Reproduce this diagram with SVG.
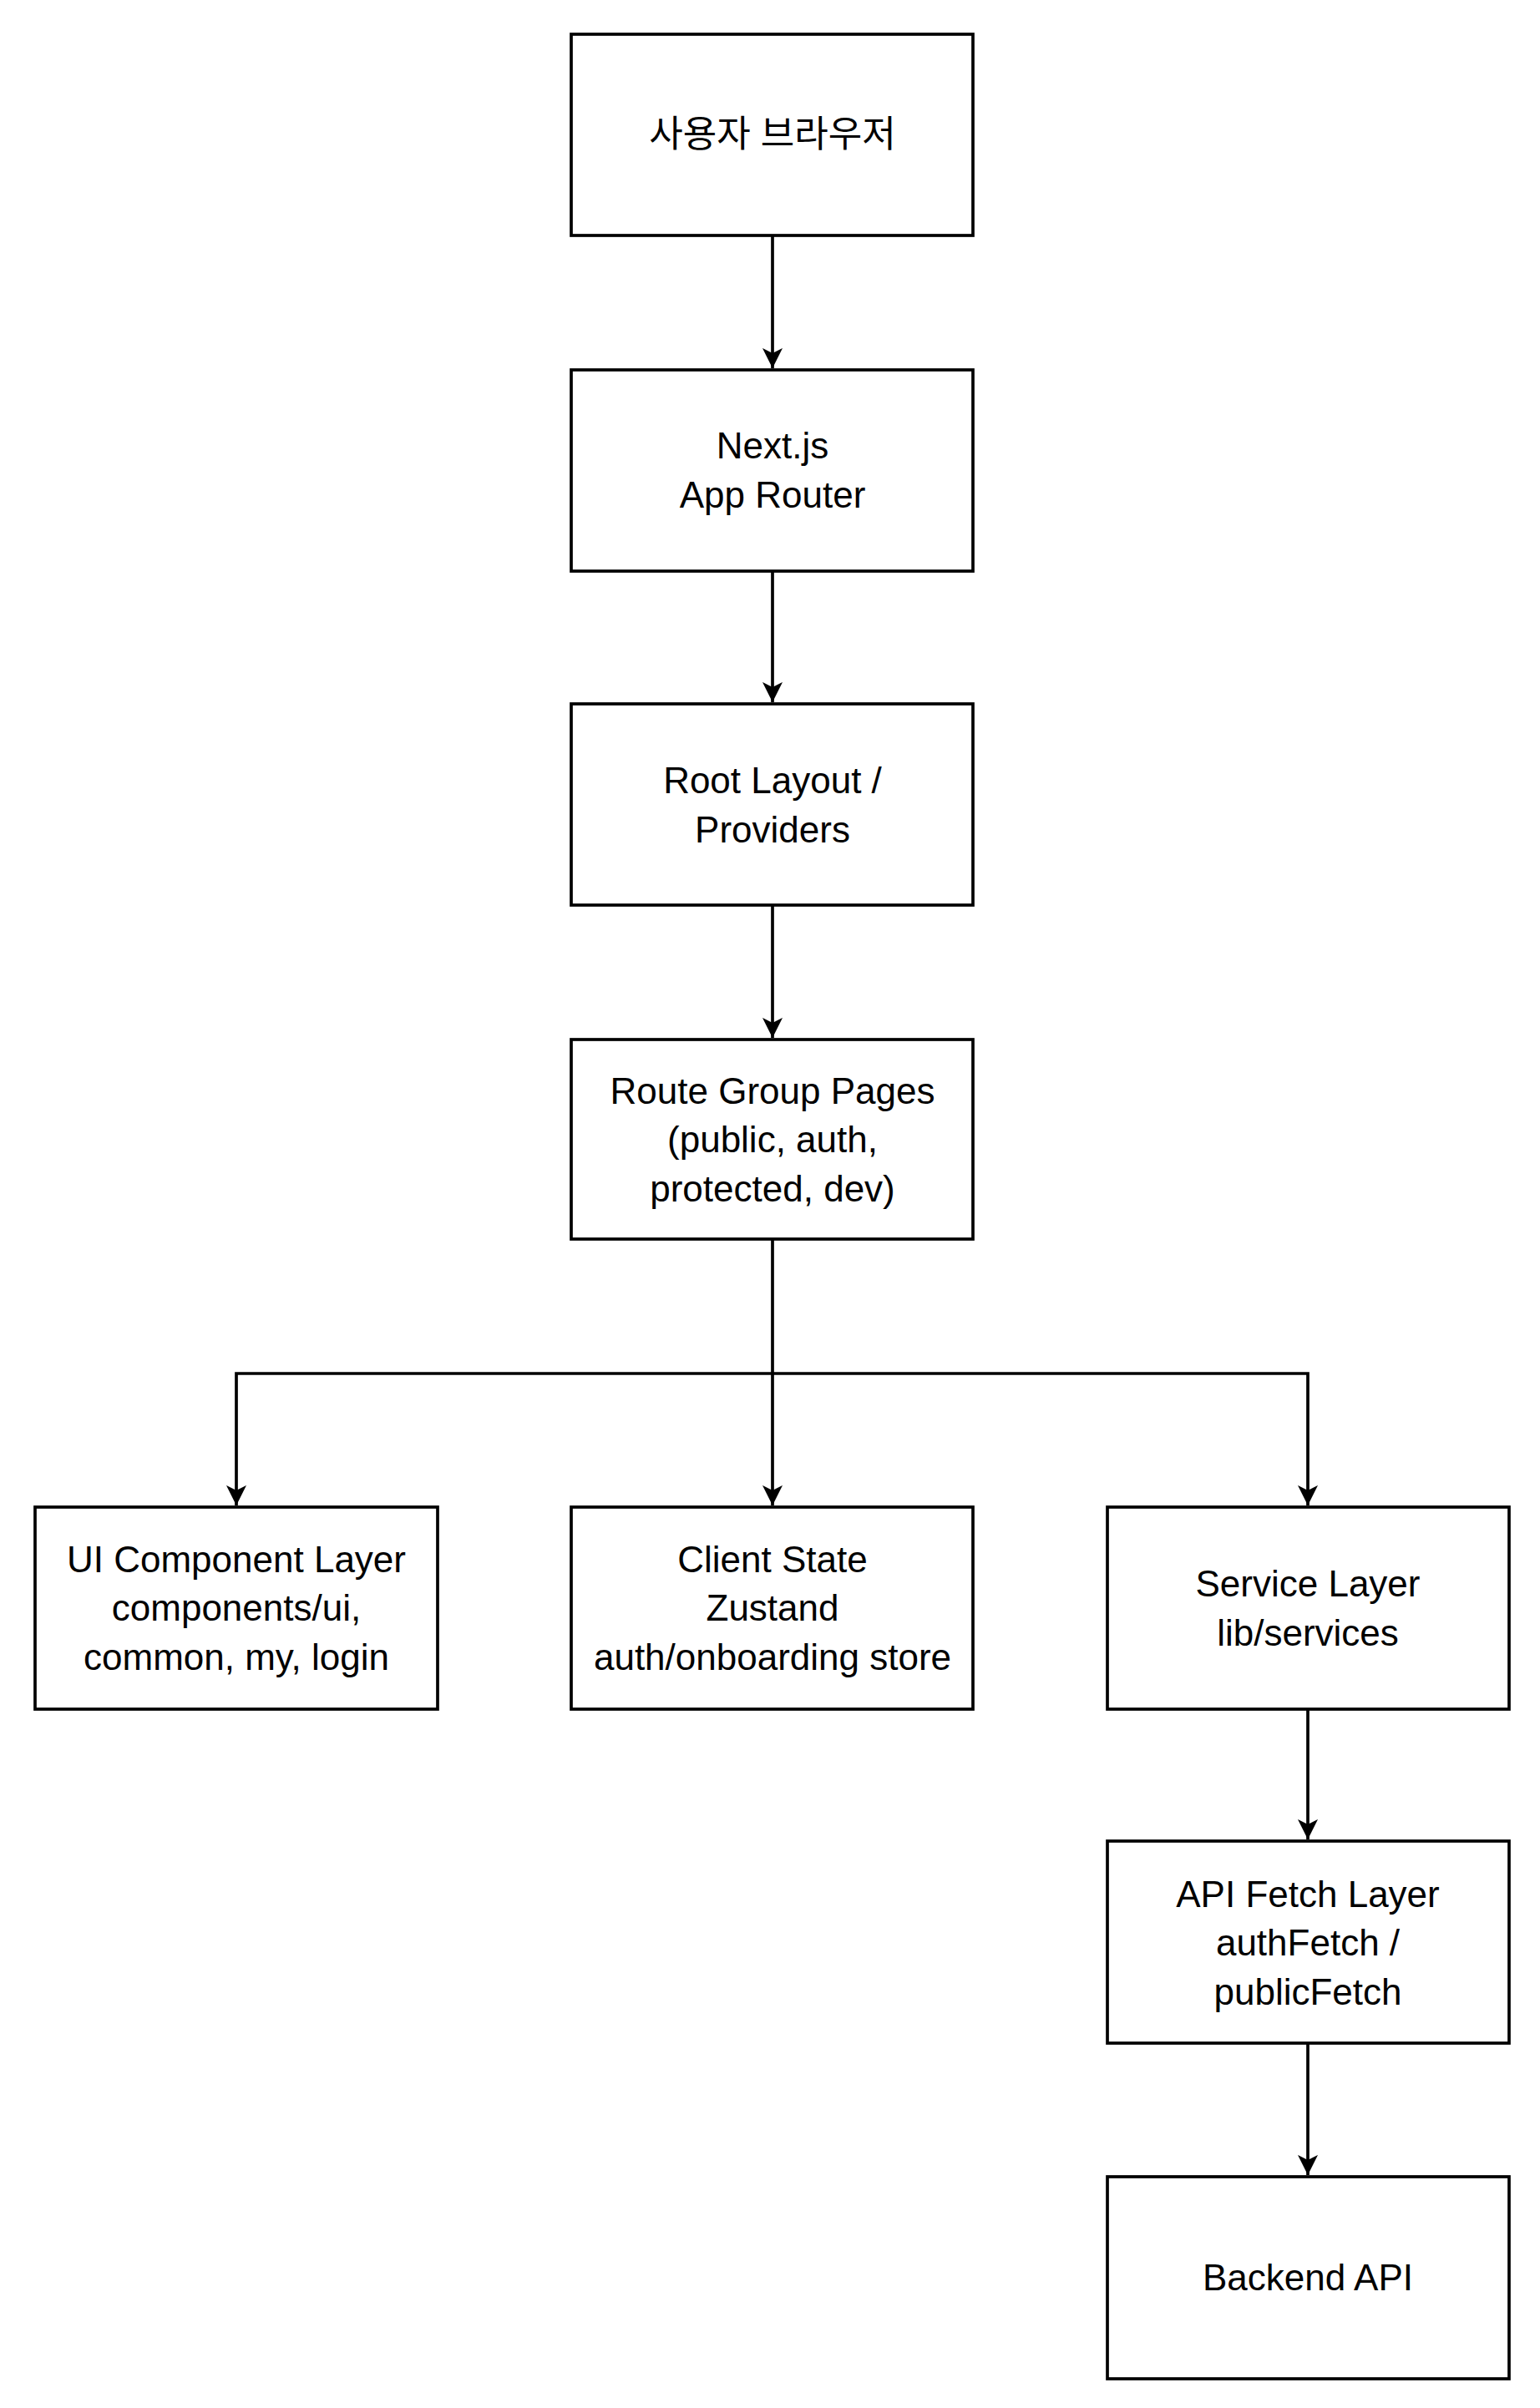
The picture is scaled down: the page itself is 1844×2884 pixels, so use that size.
<svg xmlns="http://www.w3.org/2000/svg" width="1844" height="2884" viewBox="0 0 1844 2884">
<style>
rect{fill:#fff;stroke:#000;stroke-width:3.7}
text{font-family:"Liberation Sans","Noto Sans CJK KR",Arial,sans-serif;font-size:44px;text-anchor:middle;dominant-baseline:central;fill:#000}
.c{fill:none;stroke:#000;stroke-width:3.7}
</style>
<defs><marker id="a" viewBox="0 0 10 10" refX="10" refY="5" markerWidth="6.5" markerHeight="6.5" markerUnits="strokeWidth" orient="auto"><path d="M0,0L10,5L0,10L2.5,5Z" fill="#000"/></marker></defs>
<rect x="0" y="0" width="1844" height="2884" style="stroke:none"/>
<g id="connectors">
<path class="c" d="M925,282V441" marker-end="url(#a)"/>
<path class="c" d="M925,684V841" marker-end="url(#a)"/>
<path class="c" d="M925,1084V1243" marker-end="url(#a)"/>
<path class="c" d="M925,1484V1803" marker-end="url(#a)"/>
<path class="c" d="M925,1645H283V1803" marker-end="url(#a)"/>
<path class="c" d="M925,1645H1566V1803" marker-end="url(#a)"/>
<path class="c" d="M1566,2047V2203" marker-end="url(#a)"/>
<path class="c" d="M1566,2447V2605" marker-end="url(#a)"/>
</g>
<g id="n1"><rect x="684" y="41" width="481" height="241"/><text x="925" y="160">사용자 브라우저</text></g>
<g id="n2"><rect x="684" y="443" width="481" height="241"/><text x="925" y="533">Next.js</text><text x="925" y="592">App Router</text></g>
<g id="n3"><rect x="684" y="843" width="481" height="241"/><text x="925" y="934">Root Layout /</text><text x="925" y="993">Providers</text></g>
<g id="n4"><rect x="684" y="1245" width="481" height="239"/><text x="925" y="1306">Route Group Pages</text><text x="925" y="1364">(public, auth,</text><text x="925" y="1423">protected, dev)</text></g>
<g id="n5"><rect x="42" y="1805" width="482" height="242"/><text x="283" y="1867">UI Component Layer</text><text x="283" y="1925">components/ui,</text><text x="283" y="1984">common, my, login</text></g>
<g id="n6"><rect x="684" y="1805" width="481" height="242"/><text x="925" y="1867">Client State</text><text x="925" y="1925">Zustand</text><text x="925" y="1984">auth/onboarding store</text></g>
<g id="n7"><rect x="1326" y="1805" width="481" height="242"/><text x="1566" y="1896">Service Layer</text><text x="1566" y="1955">lib/services</text></g>
<g id="n8"><rect x="1326" y="2205" width="481" height="242"/><text x="1566" y="2268">API Fetch Layer</text><text x="1566" y="2326">authFetch /</text><text x="1566" y="2385">publicFetch</text></g>
<g id="n9"><rect x="1326" y="2607" width="481" height="242"/><text x="1566" y="2727">Backend API</text></g>
</svg>
